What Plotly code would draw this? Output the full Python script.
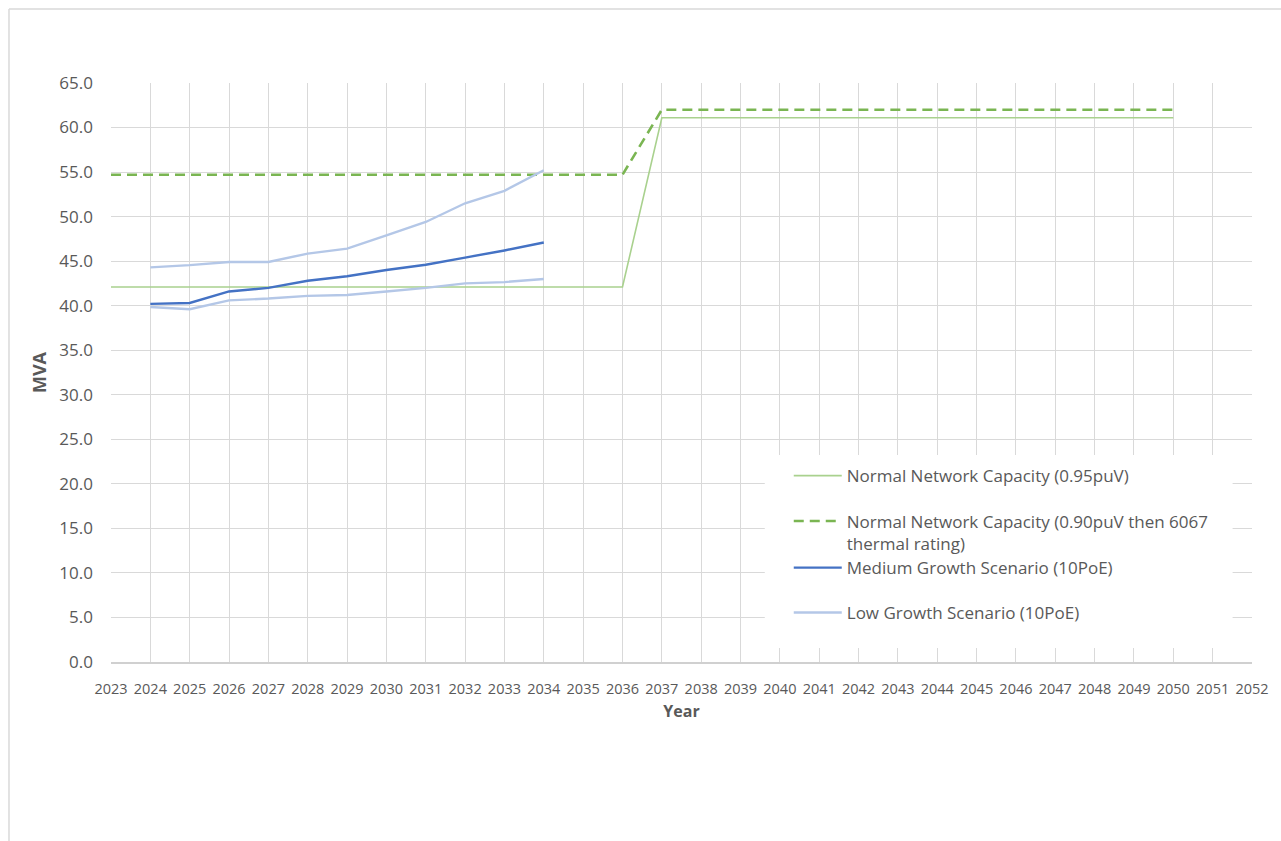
import plotly.graph_objects as go

# Years on the category axis
years = list(range(2023, 2053))

# Capacity series (MVA)
cap_095_years = list(range(2023, 2051))
cap_095 = [42.1] * 14 + [61.1] * 14

cap_090_years = list(range(2023, 2051))
cap_090 = [54.7] * 14 + [62.0] * 14

# Demand scenarios (MVA), 2024-2034
scen_years = list(range(2024, 2035))
medium_growth = [40.2, 40.3, 41.6, 42.0, 42.8, 43.3, 44.0, 44.6, 45.4, 46.2, 47.1]
low_growth = [39.85, 39.6, 40.6, 40.8, 41.1, 41.2, 41.6, 42.0, 42.5, 42.65, 43.0]
upper_growth = [44.3, 44.55, 44.9, 44.9, 45.85, 46.4, 47.9, 49.4, 51.5, 52.9, 55.2]

FONT = "Open Sans"
GRID = "#D9D9D9"
TEXT = "#595959"

fig = go.Figure()

fig.add_trace(go.Scatter(
    x=cap_095_years, y=cap_095, mode="lines",
    name="Normal Network Capacity (0.95puV)",
    line=dict(color="#A9D18E", width=1.6),
    legend="legend",
))
fig.add_trace(go.Scatter(
    x=cap_090_years, y=cap_090, mode="lines",
    name="Normal Network Capacity (0.90puV then 6067<br>thermal rating)",
    line=dict(color="#7AB552", width=2.6, dash="10px,6px"),
    legend="legend2",
))
fig.add_trace(go.Scatter(
    x=scen_years, y=upper_growth, mode="lines",
    name="Upper Growth Scenario (10PoE)",
    line=dict(color="#B4C7E7", width=2.4),
    showlegend=False,
))
fig.add_trace(go.Scatter(
    x=scen_years, y=medium_growth, mode="lines",
    name="Medium Growth Scenario (10PoE)",
    line=dict(color="#4472C4", width=2.4),
    legend="legend3",
))
fig.add_trace(go.Scatter(
    x=scen_years, y=low_growth, mode="lines",
    name="Low Growth Scenario (10PoE)",
    line=dict(color="#B4C7E7", width=2.4),
    legend="legend4",
))

legend_common = dict(
    bgcolor="rgba(0,0,0,0)", borderwidth=0,
    font=dict(family=FONT, size=17, color=TEXT),
    xanchor="left", x=0.594, itemwidth=48,
)

fig.update_layout(
    width=1281, height=841,
    margin=dict(l=111, r=29, t=83, b=179),
    paper_bgcolor="white", plot_bgcolor="white",
    font=dict(family=FONT, color=TEXT),
    showlegend=True,
    legend=dict(**legend_common, y=0.3212, yanchor="middle"),
    legend2=dict(**legend_common, y=0.2237, yanchor="middle", valign="top"),
    legend3=dict(**legend_common, y=0.1623, yanchor="middle"),
    legend4=dict(**legend_common, y=0.0846, yanchor="middle"),
    xaxis=dict(
        range=[2023, 2052], tick0=2023, dtick=1,
        showgrid=True, gridcolor=GRID, gridwidth=1,
        showline=True, linecolor="#D0D0D0", linewidth=1.5,
        zeroline=False, ticks="", ticklabelstandoff=13,
        tickfont=dict(family=FONT, size=14.5, color=TEXT),
        title=dict(text="<b>Year</b>", font=dict(family=FONT, size=16, color=TEXT), standoff=9),
    ),
    yaxis=dict(
        range=[0, 65], tick0=0, dtick=5, tickformat=".1f",
        showgrid=True, gridcolor=GRID, gridwidth=1,
        showline=False, zeroline=False, ticks="", ticklabelstandoff=17,
        tickfont=dict(family=FONT, size=17, color=TEXT),
        title=dict(text="<b>MVA</b>", font=dict(family=FONT, size=18, color=TEXT), standoff=8),
    ),
    shapes=[
        # white panel behind the legend entries
        dict(type="rect", xref="paper", yref="paper",
             x0=0.573, x1=0.983, y0=0.024, y1=0.3575,
             fillcolor="white", line=dict(width=0), layer="above"),
        # outer chart frame (top and left edges)
        dict(type="line", xref="paper", yref="paper",
             x0=-0.0894, x1=1.05, y0=1.1278, y1=1.1278,
             line=dict(color="#D9D9D9", width=1.5)),
        dict(type="line", xref="paper", yref="paper",
             x0=-0.0894, x1=-0.0894, y0=1.1278, y1=-0.35,
             line=dict(color="#D9D9D9", width=1.5)),
    ],
)

fig.write_html("out.html")
